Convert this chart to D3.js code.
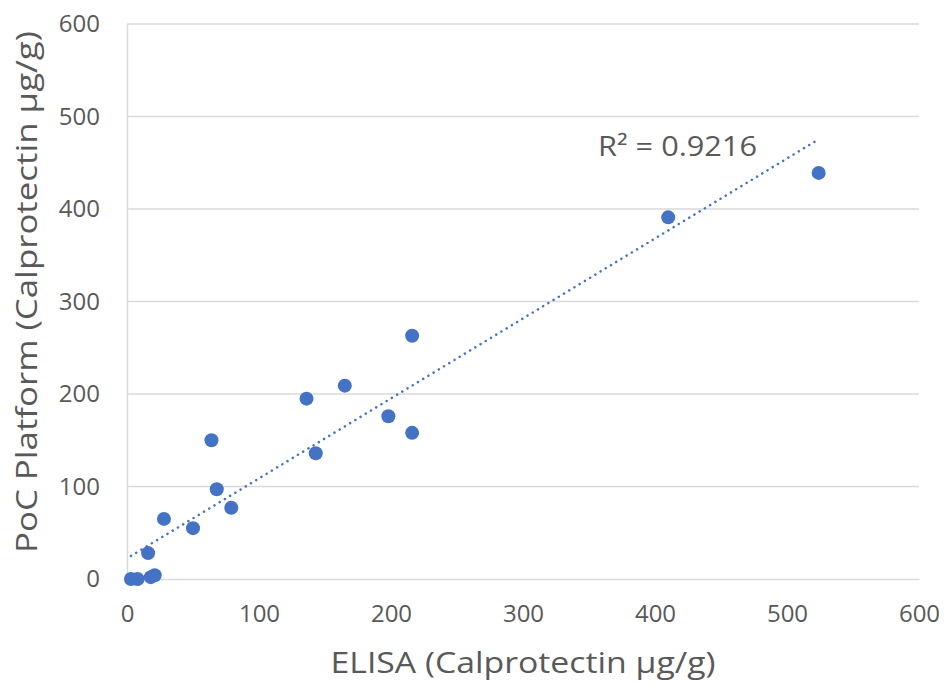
<!DOCTYPE html>
<html>
<head>
<meta charset="utf-8">
<script src="https://cdn.jsdelivr.net/npm/d3@7"></script>
<style>
  body { margin: 0; background: #fff; }
  text { font-family: "Open Sans", "Noto Sans", sans-serif; fill: #595959; }
</style>
</head>
<body>
<div id="chart"></div>
<script>
// Data
const elisa = [3, 8, 18, 21, 16, 28, 50, 68, 79, 64, 136, 143, 165, 198, 216, 216, 410, 524];
const poc   = [0, 0, 2, 4, 28, 65, 55, 97, 77, 150, 195, 136, 209, 176, 158, 263, 391, 439];
const xTicks = [0, 100, 200, 300, 400, 500, 600];
const yTicks = [0, 100, 200, 300, 400, 500, 600];
const r2Label = "R² = 0.9216";

const width = 947, height = 684;
const margin = { top: 24, right: 28, bottom: 105, left: 127 };

const svg = d3.select("#chart")
    .append("svg")
    .attr("width", width)
    .attr("height", height);

const x = d3.scaleLinear().domain([0, 600]).range([margin.left, width - margin.right]);
const y = d3.scaleLinear().domain([0, 600]).range([height - margin.bottom, margin.top]);

// Horizontal gridlines
svg.append("g")
    .selectAll("line")
    .data(yTicks.slice(1))
    .join("line")
    .attr("x1", x(0))
    .attr("x2", x(600))
    .attr("y1", d => y(d))
    .attr("y2", d => y(d))
    .attr("stroke", "#d9d9d9")
    .attr("stroke-width", 1.5);

// X axis
const xAxis = svg.append("g")
    .attr("transform", `translate(0,${y(0)})`)
    .call(d3.axisBottom(x).tickValues(xTicks).tickSize(0).tickPadding(26));
xAxis.select(".domain").attr("stroke", "#d9d9d9").attr("stroke-width", 1.5);
xAxis.selectAll("text").style("font-size", "24px").attr("fill", "#595959");

// Y axis
const yAxis = svg.append("g")
    .attr("transform", `translate(${x(0)},0)`)
    .call(d3.axisLeft(y).tickValues(yTicks).tickSize(0).tickPadding(27));
yAxis.select(".domain").attr("stroke", "#d9d9d9").attr("stroke-width", 1.5);
yAxis.selectAll("text").style("font-size", "24px").attr("fill", "#595959");

// Axis titles
svg.append("text")
    .attr("x", (x(0) + x(600)) / 2)
    .attr("y", 673)
    .attr("text-anchor", "middle")
    .attr("textLength", 385)
    .attr("lengthAdjust", "spacingAndGlyphs")
    .style("font-size", "30px")
    .text("ELISA (Calprotectin µg/g)");

svg.append("text")
    .attr("transform", `translate(37,292) rotate(-90)`)
    .attr("text-anchor", "middle")
    .attr("textLength", 522)
    .attr("lengthAdjust", "spacingAndGlyphs")
    .style("font-size", "30px")
    .text("PoC Platform (Calprotectin µg/g)");

// Linear trendline (least squares)
const pts = elisa.map((d, i) => [d, poc[i]]);
const mx = d3.mean(elisa), my = d3.mean(poc);
const slope = d3.sum(pts, p => (p[0] - mx) * (p[1] - my)) / d3.sum(pts, p => (p[0] - mx) ** 2);
const intercept = my - slope * mx;
const xr = d3.extent(elisa);

svg.append("line")
    .attr("x1", x(xr[0]))
    .attr("y1", y(intercept + slope * xr[0]))
    .attr("x2", x(xr[1]))
    .attr("y2", y(intercept + slope * xr[1]))
    .attr("stroke", "#4472c4")
    .attr("stroke-width", 2.5)
    .attr("stroke-linecap", "round")
    .attr("stroke-dasharray", "0.1 6");

// Points
svg.append("g")
    .selectAll("circle")
    .data(pts)
    .join("circle")
    .attr("cx", d => x(d[0]))
    .attr("cy", d => y(d[1]))
    .attr("r", 7)
    .attr("fill", "#4472c4");

// R² label
svg.append("text")
    .attr("x", 598)
    .attr("y", 156)
    .attr("textLength", 159)
    .attr("lengthAdjust", "spacingAndGlyphs")
    .style("font-size", "27px")
    .text(r2Label);
</script>
</body>
</html>
